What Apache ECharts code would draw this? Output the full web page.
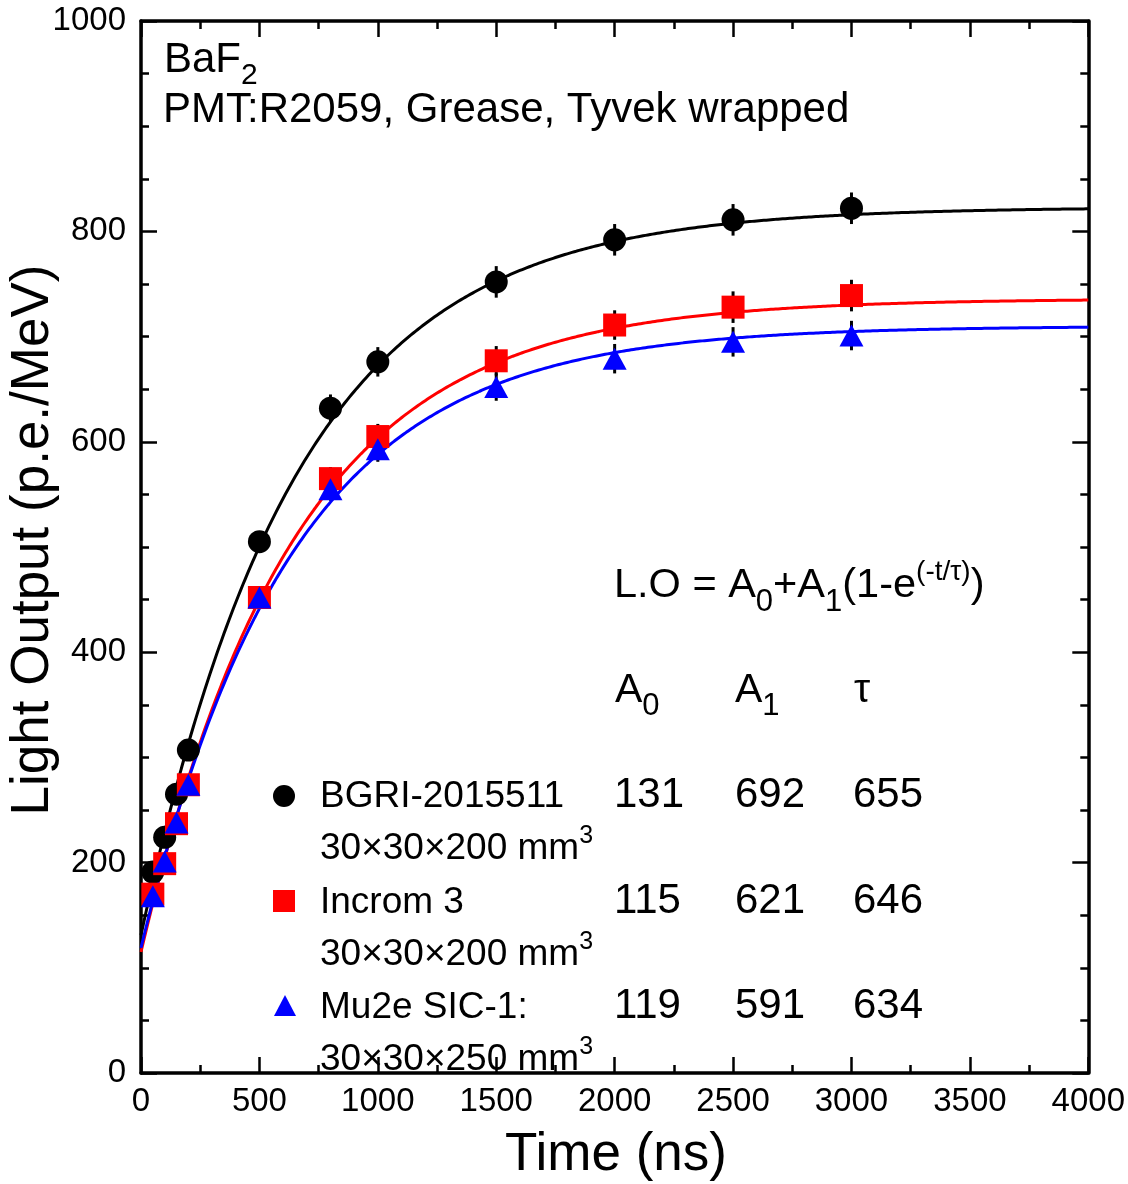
<!DOCTYPE html>
<html>
<head>
<meta charset="utf-8">
<title>BaF2 light output vs integration time</title>
<script src="https://cdn.jsdelivr.net/npm/echarts@6/dist/echarts.min.js"></script>
<style>
  html, body { margin: 0; padding: 0; background: #fff; }
  #chart { width: 1128px; height: 1184px; }
</style>
</head>
<body>
<div id="chart"></div>
<script>
// Integration gate (ns) for every measured point
const times = [50, 100, 150, 200, 500, 800, 1000, 1500, 2000, 2500, 3000];

// Measured light output (p.e./MeV)
const bgriLO   = [191, 224, 265, 307, 505, 632, 676, 752, 792, 811, 822];
const incromLO = [170, 199, 237, 274, 452, 565, 605, 677, 711, 728, 739];
const mu2eLO   = [168, 201, 238, 274, 452, 555, 593, 652, 679, 695, 701];

// Uncertainties (p.e./MeV)
const bgriErr   = [4, 5, 5, 6, 10, 13, 14, 15, 15, 15, 15];
const incromErr = [3, 4, 5, 5, 9, 11, 12, 14, 14, 15, 15];
const mu2eErr   = [3, 4, 5, 5, 9, 11, 12, 13, 14, 14, 14];

// Fit parameters of L.O = A0 + A1 (1 - exp(-t/tau))
const sampleNames = ['BGRI-2015511', 'Incrom 3', 'Mu2e SIC-1:'];
const sampleSizes = ['30\u00d730\u00d7200 mm', '30\u00d730\u00d7200 mm', '30\u00d730\u00d7250 mm'];
const A0  = [131, 115, 119];
const A1  = [692, 621, 591];
const TAU = [655, 646, 634];

// Axis ticks
const xTicks = [0, 500, 1000, 1500, 2000, 2500, 3000, 3500, 4000];
const yTicks = [0, 200, 400, 600, 800, 1000];

const COLORS = ['#000000', '#ff0000', '#0000ff'];
const FONT = '"Liberation Sans", Arial, Helvetica, sans-serif';

// Fit curve sampled across the full time axis
function fitCurve(k) {
  const pts = [];
  for (let t = xTicks[0]; t <= xTicks[xTicks.length - 1]; t += 10) {
    pts.push([t, A0[k] + A1[k] * (1 - Math.exp(-t / TAU[k]))]);
  }
  return pts;
}

const measureCtx = document.createElement('canvas').getContext('2d');
function textWidth(text, size) {
  measureCtx.font = size + 'px ' + FONT;
  return measureCtx.measureText(text).width;
}
// Lays out text pieces one after another on a common baseline;
// each piece is [text, fontSize, baselineShift]
function textRun(x, baseline, parts) {
  const out = [];
  let cx = x;
  parts.forEach(([t, size, dy]) => {
    out.push({
      type: 'text', x: cx, y: baseline + (dy || 0) - 0.3465 * size, z: 10,
      style: { text: t, font: size + 'px ' + FONT, fill: '#000', align: 'left', verticalAlign: 'middle' }
    });
    cx += textWidth(t, size);
  });
  return out;
}

const series = [];
const pointSets = [bgriLO, incromLO, mu2eLO];
const errSets = [bgriErr, incromErr, mu2eErr];
const symbols = ['circle', 'rect', 'triangle'];
const symbolSizes = [23, 23, [24, 22]];

// error bars sit below all markers
pointSets.forEach((vals, k) => {
  series.push({
    type: 'custom', z: 1, silent: true,
    encode: { x: 0, y: 1 },
    data: times.map((t, i) => [t, vals[i], errSets[k][i]]),
    renderItem: (params, api) => {
      const x = api.value(0), y = api.value(1), e = api.value(2);
      const p1 = api.coord([x, y - e]);
      const p2 = api.coord([x, y + e]);
      return {
        type: 'line',
        shape: { x1: p1[0], y1: p1[1], x2: p2[0], y2: p2[1] },
        style: { stroke: '#000', lineWidth: 3 }
      };
    }
  });
});

pointSets.forEach((vals, k) => {
  series.push({
    type: 'scatter', name: sampleNames[k], z: 3,
    symbol: symbols[k], symbolSize: symbolSizes[k],
    itemStyle: { color: COLORS[k], opacity: 1 },
    data: times.map((t, i) => [t, vals[i]])
  });
  series.push({
    type: 'line', z: 3, showSymbol: false, silent: true,
    lineStyle: { color: COLORS[k], width: 3 },
    data: fitCurve(k)
  });
});

const axisBase = {
  type: 'value',
  axisLine: { show: true, onZero: false, lineStyle: { color: '#000', width: 3.5 } },
  axisTick: { show: true, inside: true, length: 16, lineStyle: { color: '#000', width: 2.5 } },
  splitLine: { show: false }
};
const plainLabel = v => String(v);

const xMain = Object.assign({}, axisBase, {
  position: 'bottom', min: xTicks[0], max: xTicks[xTicks.length - 1], interval: xTicks[1] - xTicks[0],
  minorTick: { show: true, splitNumber: 2, length: 8, lineStyle: { color: '#000', width: 2.5 } },
  axisLabel: { show: true, margin: 12, color: '#000', fontSize: 33, fontFamily: FONT, formatter: plainLabel }
});
const xTop = Object.assign({}, axisBase, {
  position: 'top', min: xTicks[0], max: xTicks[xTicks.length - 1], interval: xTicks[1] - xTicks[0],
  minorTick: { show: true, splitNumber: 2, length: 8, lineStyle: { color: '#000', width: 2.5 } },
  axisLabel: { show: false }
});
const yMain = Object.assign({}, axisBase, {
  position: 'left', min: yTicks[0], max: yTicks[yTicks.length - 1], interval: yTicks[1] - yTicks[0],
  minorTick: { show: true, splitNumber: 4, length: 8, lineStyle: { color: '#000', width: 2.5 } },
  axisLabel: { show: true, margin: 15, color: '#000', fontSize: 33, fontFamily: FONT, formatter: plainLabel }
});
const yRight = Object.assign({}, axisBase, {
  position: 'right', min: yTicks[0], max: yTicks[yTicks.length - 1], interval: yTicks[1] - yTicks[0],
  minorTick: { show: true, splitNumber: 4, length: 8, lineStyle: { color: '#000', width: 2.5 } },
  axisLabel: { show: false }
});

// Annotation text
const graphics = [];
graphics.push(...textRun(164, 75, [['BaF', 42, 0], ['2', 30, 11]]));
graphics.push(...textRun(163, 125, [['PMT:R2059, Grease, Tyvek wrapped', 42, 0]]));
graphics.push(...textRun(614, 600, [
  ['L.O = A', 41.5, 0], ['0', 31, 13], ['+A', 41.5, 0], ['1', 31, 13],
  ['(1-e', 41.5, 0], ['(-t/\u03c4)', 28, -18], [')', 41.5, 0]
]));
const colX = [615, 735, 853];
graphics.push(...textRun(colX[0], 705, [['A', 41, 0], ['0', 31, 12]]));
graphics.push(...textRun(colX[1], 705, [['A', 41, 0], ['1', 31, 12]]));
graphics.push(...textRun(colX[2] + 1, 705, [['\u03c4', 41, 0]]));

const rowBase = [810, 916, 1021];
const markerY = [796, 901, 1006];
sampleNames.forEach((name, k) => {
  const b = rowBase[k];
  graphics.push(...textRun(320, b, [[name, 37, 0]]));
  graphics.push(...textRun(320, b + 52, [[sampleSizes[k], 37, 0], ['3', 25, -17]]));
  graphics.push(...textRun(colX[0] - 1, b, [[String(A0[k]), 42, 0]]));
  graphics.push(...textRun(colX[1], b, [[String(A1[k]), 42, 0]]));
  graphics.push(...textRun(colX[2], b, [[String(TAU[k]), 42, 0]]));
});
// legend keys
graphics.push({ type: 'circle', z: 10, shape: { cx: 284, cy: markerY[0], r: 11 }, style: { fill: COLORS[0] } });
graphics.push({ type: 'rect', z: 10, shape: { x: 273, y: markerY[1] - 11, width: 22, height: 22 }, style: { fill: COLORS[1] } });
graphics.push({ type: 'polygon', z: 10, shape: { points: [[285, markerY[2] - 11], [274, markerY[2] + 10], [296, markerY[2] + 10]] }, style: { fill: COLORS[2] } });

// axis titles
graphics.push({
  type: 'text', x: 33, y: 540, rotation: Math.PI / 2, z: 10,
  style: { text: 'Light Output (p.e./MeV)', font: '53px ' + FONT, fill: '#000', align: 'center', verticalAlign: 'middle' }
});
graphics.push({
  type: 'text', x: 616, y: 1155, z: 10,
  style: { text: 'Time (ns)', font: '53px ' + FONT, fill: '#000', align: 'center', verticalAlign: 'middle' }
});

const chart = echarts.init(document.getElementById('chart'), null, { renderer: 'canvas' });
chart.setOption({
  animation: false,
  backgroundColor: '#ffffff',
  grid: { left: 141, right: 37, top: 21, bottom: 111, containLabel: false },
  xAxis: [xMain, xTop],
  yAxis: [yMain, yRight],
  series: series,
  graphic: { elements: graphics }
});
</script>
</body>
</html>
